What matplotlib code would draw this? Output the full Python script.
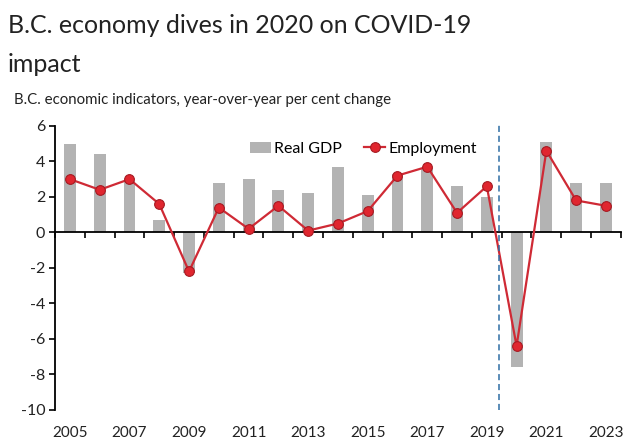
import matplotlib.pyplot as plt
import numpy as np

# data
years = [str(y) for y in range(2005, 2024)]
real_gdp = [5.0, 4.4, 2.9, 0.7, -2.3, 2.8, 3.0, 2.4, 2.2, 3.7,
            2.1, 3.3, 3.6, 2.6, 2.0, -7.6, 5.1, 2.8, 2.8]
employment = [3.0, 2.4, 3.0, 1.6, -2.2, 1.4, 0.2, 1.5, 0.1, 0.5,
              1.2, 3.2, 3.7, 1.1, 2.6, -6.4, 4.6, 1.8, 1.5]
label_years = years[::2]

plt.rcParams['font.family'] = ['Lato', 'DejaVu Sans']

fig = plt.figure(figsize=(6.4, 4.48), dpi=100)
ax = fig.add_axes([0.086, 0.085, 0.884, 0.634])

x = np.arange(len(years))
bars = ax.bar(x, real_gdp, width=0.4, color='#b3b3b3', label='Real GDP', zorder=2)
line, = ax.plot(x, employment, color='#cf2a35', lw=1.6, marker='o', markersize=7,
                markerfacecolor='#e0262f', markeredgecolor='#a51a22', markeredgewidth=0.8,
                label='Employment', zorder=3)

# dashed line marking 2020
ax.plot([14.42, 14.42], [-10, 6.1], color='#2e6da4', lw=1.1, ls=(0, (4, 2.5)), zorder=4,
        clip_on=False)

ax.set_xlim(-0.5, len(years) - 0.5)
ax.set_ylim(-10, 6)
ax.set_yticks(range(-10, 7, 2))
ax.set_yticklabels([str(v) for v in range(-10, 7, 2)], fontsize=11.5, color='#222222')
ax.tick_params(axis='y', direction='out', length=4, width=1.2, pad=3)

ax.spines['top'].set_visible(False)
ax.spines['right'].set_visible(False)
ax.spines['left'].set_linewidth(1.3)
ax.spines['bottom'].set_position(('data', 0))
ax.spines['bottom'].set_linewidth(1.3)

# tick marks between categories, labels at bottom
ax.set_xticks(np.arange(len(years) + 1) - 0.5)
ax.set_xticklabels([])
ax.tick_params(axis='x', direction='out', length=4, width=1.2)
for i, yr in enumerate(years):
    if yr in label_years:
        ax.text(i, -0.055, yr, transform=ax.get_xaxis_transform(), ha='center', va='top',
                fontsize=11, color='#222222')

ax.legend([bars, line], ['Real GDP', 'Employment'], loc='upper center',
          bbox_to_anchor=(0.545, 0.995), ncol=2, frameon=False,
          fontsize=11.5, handlelength=1.3, handletextpad=0.2, columnspacing=1.4)

fig.text(0.012, 0.968, 'B.C. economy dives in 2020 on COVID-19\nimpact', ha='left', va='top',
         fontsize=18, color='#222222', linespacing=1.8)
fig.text(0.022, 0.777, 'B.C. economic indicators, year-over-year per cent change',
         ha='left', va='center', fontsize=10.8, color='#222222')

fig.savefig('out.png', dpi=100)
